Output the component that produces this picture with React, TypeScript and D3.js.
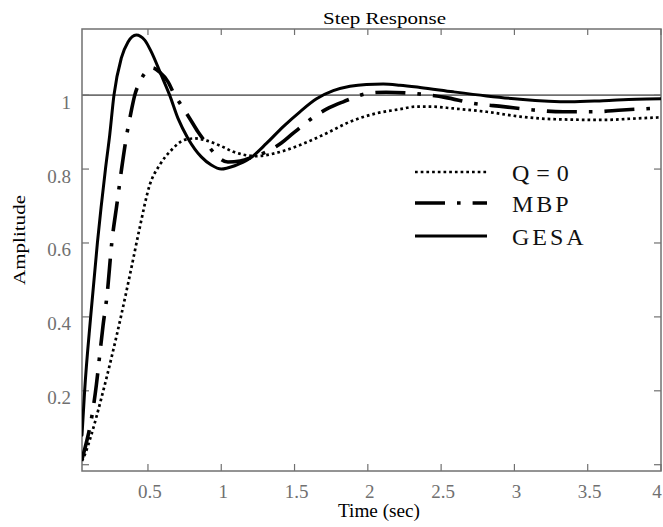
import React from "react";
import * as d3 from "d3";

const W = 663;
const H = 527;

// Series (time in seconds, amplitude)
const gesaT = [0.05, 0.068, 0.109, 0.155, 0.21, 0.239, 0.268, 0.318, 0.364, 0.42, 0.478, 0.523, 0.591, 0.648, 0.705, 0.773, 0.864, 0.932, 1.0, 1.092, 1.196, 1.31, 1.423, 1.537, 1.65, 1.764, 1.878, 1.99, 2.105, 2.219, 2.356, 2.583, 2.81, 3.038, 3.38, 3.606, 3.834, 4.0];
const gesaY = [0.08, 0.2, 0.4, 0.6, 0.8, 0.892, 1.0, 1.1, 1.144, 1.163, 1.149, 1.117, 1.054, 1.0, 0.937, 0.883, 0.833, 0.811, 0.8, 0.809, 0.829, 0.87, 0.915, 0.955, 0.99, 1.012, 1.024, 1.029, 1.03, 1.027, 1.021, 1.009, 0.998, 0.989, 0.982, 0.985, 0.989, 0.99];

const mbpT = [0.05, 0.08, 0.102, 0.125, 0.148, 0.171, 0.194, 0.221, 0.253, 0.29, 0.32, 0.352, 0.38, 0.41, 0.45, 0.49, 0.53, 0.58, 0.637, 0.682, 0.727, 0.785, 0.841, 0.898, 0.955, 1.046, 1.13, 1.218, 1.31, 1.412, 1.491, 1.65, 1.737, 1.832, 2.016, 2.124, 2.265, 2.424, 2.526, 2.719, 2.924, 3.128, 3.333, 3.538, 3.738, 3.925, 4.0];
const mbpY = [0.015, 0.06, 0.098, 0.15, 0.216, 0.297, 0.378, 0.459, 0.6, 0.71, 0.8, 0.885, 0.945, 1.0, 1.04, 1.065, 1.074, 1.062, 1.036, 1.0, 0.973, 0.937, 0.901, 0.87, 0.842, 0.819, 0.822, 0.833, 0.847, 0.871, 0.897, 0.946, 0.966, 0.982, 1.006, 1.008, 1.006, 1.0, 0.994, 0.978, 0.969, 0.96, 0.955, 0.955, 0.96, 0.964, 0.966];

const q0T = [0.05, 0.068, 0.113, 0.182, 0.25, 0.318, 0.386, 0.443, 0.512, 0.58, 0.659, 0.75, 0.819, 0.9, 1.0, 1.082, 1.242, 1.378, 1.537, 1.719, 1.878, 2.06, 2.219, 2.33, 2.424, 2.583, 2.81, 3.038, 3.265, 3.606, 3.834, 4.0];
const q0Y = [0.01, 0.026, 0.08, 0.18, 0.288, 0.405, 0.531, 0.64, 0.757, 0.811, 0.851, 0.879, 0.883, 0.877, 0.862, 0.847, 0.835, 0.844, 0.865, 0.897, 0.928, 0.951, 0.962, 0.969, 0.969, 0.964, 0.955, 0.942, 0.935, 0.933, 0.937, 0.94];

const xTicks = [0.5, 1, 1.5, 2, 2.5, 3, 3.5, 4];
const xTickLabels = ["0.5", "1", "1.5", "2", "2.5", "3", "3.5", "4"];
const yTicks = [0, 0.2, 0.4, 0.6, 0.8, 1];
const yTickLabels = ["", "0.2", "0.4", "0.6", "0.8", "1"];
const refLevel = 1;

const seriesNames = ["Q = 0", "MBP", "GESA"];

const X0 = 82, X1 = 661, Y0 = 29, Y1 = 471;
const GREY = "#707070";
const FONT = "'Liberation Serif', 'Times New Roman', serif";

export default function App() {
  const x = d3.scaleLinear().domain([0.05, 4]).range([X0, X1]);
  const y = d3.scaleLinear().domain([-0.017, 1.179]).range([Y1, Y0]);

  const mk = (ts: number[], vs: number[]) =>
    d3
      .line<number>()
      .x((_, i) => x(ts[i]))
      .y((v) => y(v))
      .curve(d3.curveMonotoneX)(vs) || "";

  const styles = [
    { d: mk(q0T, q0Y), w: 2.7, dash: "2.7 3", cap: "butt" },
    { d: mk(mbpT, mbpY), w: 3.6, dash: "30 12 3.6 12", cap: "butt" },
    { d: mk(gesaT, gesaY), w: 3, dash: "none", cap: "round" },
  ];

  const legY = [172, 203, 236];

  return (
    <svg
      width={W}
      height={H}
      style={{ position: "absolute", left: 0, top: 0, background: "#fff" }}
      fontFamily={FONT}
    >
      <rect x={0} y={0} width={W} height={H} fill="#fff" />
      <defs>
        <clipPath id="plot">
          <rect x={X0} y={Y0} width={X1 - X0} height={Y1 - Y0} />
        </clipPath>
      </defs>

      {/* reference line */}
      <line x1={X0} x2={X1} y1={y(refLevel)} y2={y(refLevel)} stroke={GREY} strokeWidth={1.6} />

      {/* frame */}
      <rect x={X0} y={Y0} width={X1 - X0} height={Y1 - Y0} fill="none" stroke={GREY} strokeWidth={1.5} />

      {/* x ticks */}
      {xTicks.map((t, i) => (
        <g key={"xt" + i}>
          <line x1={x(t)} x2={x(t)} y1={Y1} y2={Y1 - 7} stroke={GREY} strokeWidth={1.2} />
          <line x1={x(t)} x2={x(t)} y1={Y0} y2={Y0 + 6} stroke={GREY} strokeWidth={1.2} />
          <text
            x={Math.min(x(t) + 2, W - 6)}
            y={498}
            textAnchor="middle"
            fontSize={19}
            fill={GREY}
          >
            {xTickLabels[i]}
          </text>
        </g>
      ))}

      {/* y ticks */}
      {yTicks.map((t, i) => (
        <g key={"yt" + i}>
          <line x1={X0} x2={X0 + 7} y1={y(t)} y2={y(t)} stroke={GREY} strokeWidth={1.2} />
          <line x1={X1} x2={X1 - 7} y1={y(t)} y2={y(t)} stroke={GREY} strokeWidth={1.2} />
          <text x={71} y={y(t) + 13.5} textAnchor="end" fontSize={19} fill={GREY}>
            {yTickLabels[i]}
          </text>
        </g>
      ))}

      {/* curves */}
      <g clipPath="url(#plot)">
        {styles.map((s, i) => (
          <path
            key={i}
            d={s.d}
            fill="none"
            stroke="#000"
            strokeWidth={s.w}
            strokeDasharray={s.dash}
            strokeLinecap={s.cap as any}
            strokeLinejoin="round"
          />
        ))}
      </g>

      {/* legend */}
      {seriesNames.map((n, i) => (
        <g key={"lg" + i}>
          <line
            x1={415}
            x2={487}
            y1={legY[i]}
            y2={legY[i]}
            stroke="#000"
            strokeWidth={styles[i].w}
            strokeDasharray={styles[i].dash}
            strokeLinecap="butt"
          />
          <text x={512} y={legY[i] + 9} fontSize={24} letterSpacing={i === 0 ? 0.5 : 3} fill="#111">
            {n}
          </text>
        </g>
      ))}

      {/* titles */}
      <text x={384.5} y={24} textAnchor="middle" fontSize={17} textLength={123} lengthAdjust="spacingAndGlyphs" fill="#000">
        Step Response
      </text>
      <text x={379} y={517} textAnchor="middle" fontSize={18} textLength={82} lengthAdjust="spacingAndGlyphs" fill="#000">
        Time (sec)
      </text>
      <text
        transform={`translate(25,240) rotate(-90)`}
        textAnchor="middle"
        fontSize={17}
        textLength={90}
        lengthAdjust="spacingAndGlyphs"
        fill="#000"
      >
        Amplitude
      </text>
    </svg>
  );
}
